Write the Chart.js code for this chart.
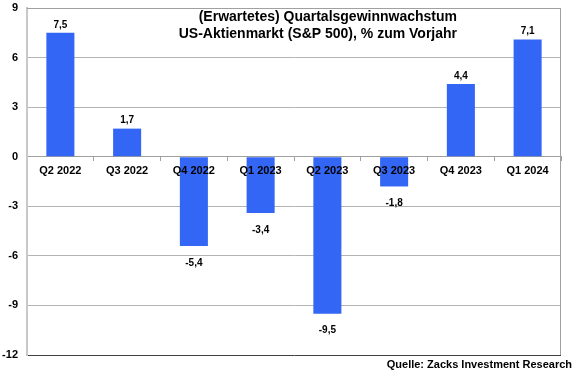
<!DOCTYPE html>
<html>
<head>
<meta charset="utf-8">
<script src="https://cdn.jsdelivr.net/npm/chart.js@4"></script>
<style>
  html, body { margin: 0; padding: 0; background: #fff; }
  #wrap { width: 580px; height: 375px; }
</style>
</head>
<body>
<div id="wrap"><canvas id="c"></canvas></div>
<script>
const quarters = ['Q2 2022', 'Q3 2022', 'Q4 2022', 'Q1 2023', 'Q2 2023', 'Q3 2023', 'Q4 2023', 'Q1 2024'];
const growth = [7.5, 1.7, -5.4, -3.4, -9.5, -1.8, 4.4, 7.1];
const yTicks = [-12, -9, -6, -3, 0, 3, 6, 9];
const titleLines = ['(Erwartetes) Quartalsgewinnwachstum', 'US-Aktienmarkt (S&P 500), % zum Vorjahr'];
const sourceText = 'Quelle: Zacks Investment Research';

const FONT = '"Liberation Sans", Arial, sans-serif';

// Rahmen, Titel, Werte an den Balken und Quelle
const extras = {
    id: 'extras',
    beforeDatasetsDraw: (chart) => {
        const { ctx, chartArea: a } = chart;
        ctx.save();
        ctx.strokeStyle = '#a0a0a0';
        ctx.lineWidth = 1;
        ctx.beginPath();
        ctx.moveTo(a.left, a.top + 0.5);
        ctx.lineTo(a.right - 0.5, a.top + 0.5);
        ctx.lineTo(a.right - 0.5, a.bottom);
        ctx.stroke();
        ctx.restore();
    },
    afterDraw: (chart) => {
        const { ctx } = chart;
        ctx.save();
        ctx.fillStyle = '#000';
        ctx.font = 'bold 14px ' + FONT;
        ctx.textAlign = 'right';
        ctx.textBaseline = 'middle';
        ctx.fillText(titleLines[0], 457, 17);
        ctx.fillText(titleLines[1], 457, 34);

        ctx.font = 'bold 10px ' + FONT;
        ctx.textAlign = 'center';
        const meta = chart.getDatasetMeta(0);
        meta.data.forEach((bar, i) => {
            const v = growth[i];
            const txt = v.toFixed(1).replace('.', ',');
            const y = v >= 0 ? bar.y - 8 : bar.y + 17;
            ctx.fillText(txt, bar.x, y);
        });

        ctx.font = 'bold 11px ' + FONT;
        ctx.textAlign = 'right';
        ctx.fillText(sourceText, 572, 365);
        ctx.restore();
    }
};

new Chart(document.getElementById('c'), {
    type: 'bar',
    data: {
        labels: quarters,
        datasets: [{
            data: growth,
            backgroundColor: '#3366f5',
            categoryPercentage: 0.84,
            barPercentage: 0.5
        }]
    },
    options: {
        responsive: true,
        maintainAspectRatio: false,
        animation: false,
        layout: { padding: { top: 8, right: 19, bottom: 20, left: 0 } },
        plugins: { legend: { display: false }, tooltip: { enabled: false } },
        scales: {
            x: {
                position: { y: 0 },
                afterFit: (s) => { s.height = 0; s.paddingLeft = 0; s.paddingRight = 0; s.paddingTop = 0; s.paddingBottom = 0; },
                grid: { drawOnChartArea: false, drawTicks: true, tickLength: 4, color: '#a0a0a0' },
                border: { display: true, color: '#a0a0a0' },
                ticks: { z: 1, color: '#000', font: { family: FONT, size: 11, weight: 'bold' }, padding: 4, maxRotation: 0 }
            },
            y: {
                min: -12,
                max: 9,
                afterFit: (s) => { s.width = 27; s.paddingTop = 0; s.paddingBottom = 0; },
                afterBuildTicks: (s) => { s.ticks = yTicks.map(v => ({ value: v })); },
                grid: {
                    drawTicks: false,
                    color: (c) => c.tick && c.tick.value === -12 ? '#404040' : '#b4b4b4'
                },
                border: { display: true, color: '#c8c8c8', width: 2 },
                ticks: { color: '#000', font: { family: FONT, size: 11, weight: 'bold' }, padding: 9 }
            }
        }
    },
    plugins: [extras]
});
</script>
</body>
</html>
